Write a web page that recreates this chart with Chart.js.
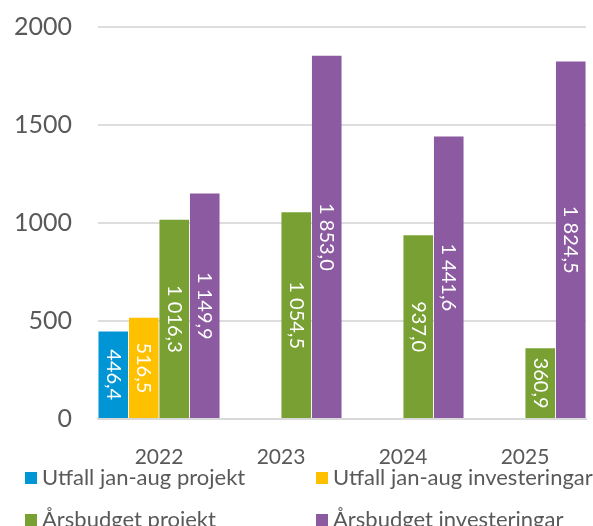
<!DOCTYPE html>
<html lang="sv">
<head>
  <meta charset="UTF-8">
  <title>Utfall och årsbudget</title>
  <script src="https://cdn.jsdelivr.net/npm/chart.js"></script>
  <style>
    body { margin: 0; background: #fff; font-family: Lato, "Open Sans", sans-serif; }
    #wrap { position: relative; width: 593px; height: 526px; overflow: hidden; }
    .item { position: absolute; font-size: 22px; color: #595959; line-height: 22px; white-space: nowrap; }
    .item span { display: inline-block; width: 12px; height: 12px; margin-right: 5px; vertical-align: 1px; }
  </style>
</head>
<body>
<div id="wrap">
  <canvas id="chart" width="593" height="526"></canvas>
  <div id="legend"></div>
</div>

<script>
// kategorier och serier
const years = ['2022', '2023', '2024', '2025'];
const utfallProjekt = [446.4, null, null, null];
const utfallInvest = [516.5, null, null, null];
const budgetProjekt = [1016.3, 1054.5, 937.0, 360.9];
const budgetInvest = [1149.9, 1853.0, 1441.6, 1824.5];
const yTicks = [0, 500, 1000, 1500, 2000];

const seriesNames = ['Utfall jan-aug projekt', 'Utfall jan-aug investeringar', 'Årsbudget projekt', 'Årsbudget investeringar'];
const colors = ['#0096D6', '#FFC000', '#78A032', '#8C5AA0'];

// 1016.3 -> "1 016,3"
function fmt(v) {
  const parts = v.toFixed(1).split('.');
  const intPart = parts[0].replace(/\B(?=(\d{3})+(?!\d))/g, ' ');
  return intPart + ',' + parts[1];
}

// etiketter inne i staplarna, roterade
const barLabels = {
  id: 'barLabels',
  afterDatasetsDraw(chart) {
    const ctx = chart.ctx;
    chart.data.datasets.forEach((ds, i) => {
      const meta = chart.getDatasetMeta(i);
      meta.data.forEach((bar, j) => {
        const v = ds.data[j];
        if (v === null) return;
        ctx.save();
        ctx.translate(bar.x, (bar.y + bar.base) / 2);
        ctx.rotate(Math.PI / 2);
        ctx.fillStyle = '#fff';
        ctx.font = '20px Lato, "Open Sans", sans-serif';
        ctx.textAlign = 'center';
        ctx.textBaseline = 'middle';
        ctx.fillText(fmt(v), 0, 0);
        ctx.restore();
      });
    });
  }
};

const allData = [utfallProjekt, utfallInvest, budgetProjekt, budgetInvest];

new Chart(document.getElementById('chart'), {
  type: 'bar',
  data: {
    labels: years,
    datasets: allData.map((d, i) => ({
      label: seriesNames[i],
      data: d,
      backgroundColor: colors[i],
      borderWidth: 0,
      barPercentage: 0.97,
      categoryPercentage: 1
    }))
  },
  options: {
    responsive: false,
    animation: false,
    layout: { padding: { top: 27, right: 7, left: 0, bottom: 0 } },
    plugins: { legend: { display: false }, tooltip: { enabled: false } },
    scales: {
      x: {
        grid: { display: false },
        border: { color: '#D9D9D9', width: 2 },
        ticks: { color: '#595959', font: { family: 'Lato', size: 21 }, padding: 18 },
        afterFit(scale) { scale.height = 107; }
      },
      y: {
        min: 0,
        max: 2000,
        afterBuildTicks(scale) { scale.ticks = yTicks.map(v => ({ value: v })); },
        grid: { color: '#DDDDDD', lineWidth: 2, drawTicks: false },
        border: { display: false },
        ticks: { color: '#595959', font: { family: 'Lato', size: 25 }, padding: 26, callback: v => String(v) },
        afterFit(scale) {
          scale.width = 98;
          scale.paddingTop = 0;
          scale.paddingBottom = 0;
        }
      }
    }
  },
  plugins: [barLabels]
});

// legend i två kolumner, som i originalet
const legendPos = [[25, 466], [316, 466], [25, 508], [316, 508]];
const legend = document.getElementById('legend');
seriesNames.forEach((name, i) => {
  const d = document.createElement('div');
  d.className = 'item';
  d.style.left = legendPos[i][0] + 'px';
  d.style.top = legendPos[i][1] + 'px';
  d.innerHTML = `<span style="background:${colors[i]}"></span>${name}`;
  legend.appendChild(d);
});
</script>
</body>
</html>
